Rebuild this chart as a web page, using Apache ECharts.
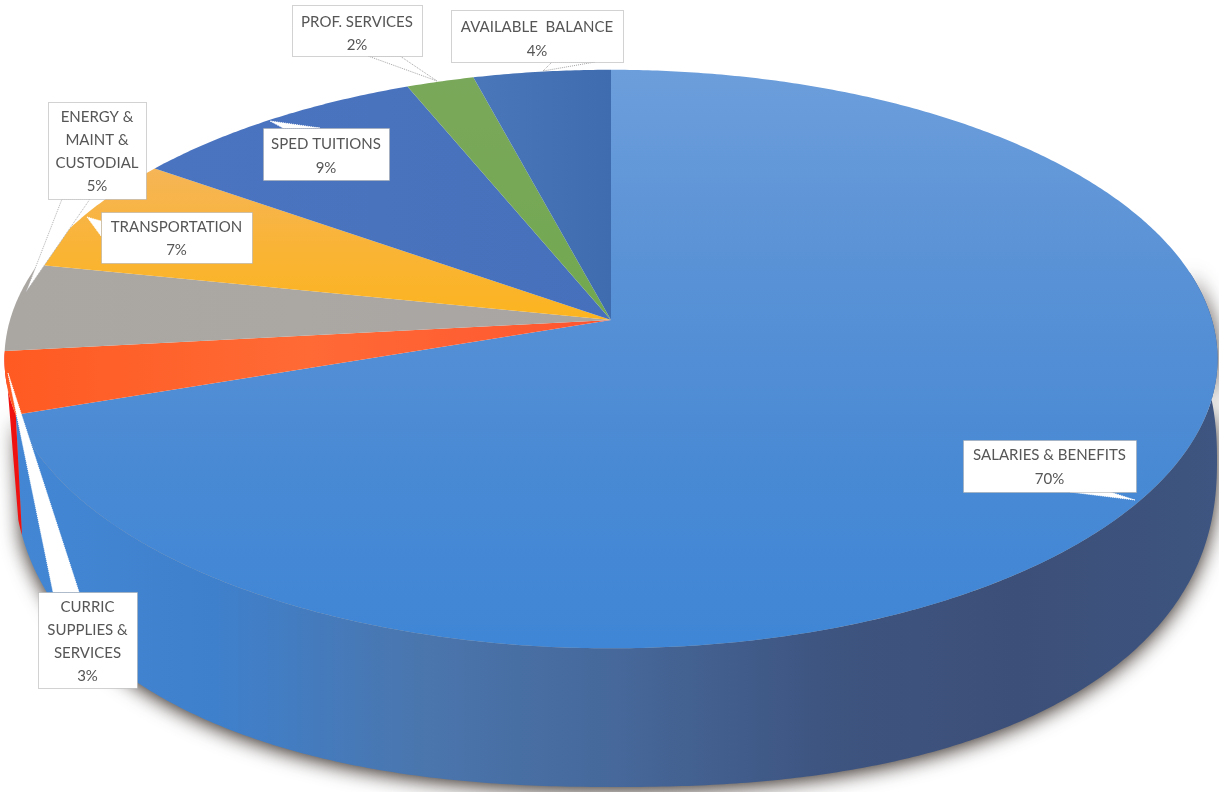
<!DOCTYPE html>
<html><head><meta charset="utf-8">
<style>html,body{margin:0;padding:0;background:#fff}#c{width:1219px;height:792px}</style>
<script src="https://cdn.jsdelivr.net/npm/echarts@6/dist/echarts.min.js"></script>
</head><body><div id="c"></div>
<script>
// Data, clockwise from twelve o'clock (labels show rounded percents)
const categories = ['SALARIES & BENEFITS','CURRIC\nSUPPLIES &\nSERVICES','ENERGY &\nMAINT &\nCUSTODIAL','TRANSPORTATION','SPED TUITIONS','PROF. SERVICES','AVAILABLE  BALANCE'];
const shares = [69.83,3.45,4.92,6.55,9.03,2.05,4.17];

// Styles
const lg = (x0,y0,x1,y1,stops)=>({type:'linear',x:x0,y:y0,x2:x1,y2:y1,colorStops:stops.map((c,i)=>({offset:i/(stops.length-1),color:c}))});
const topColors = [
  lg(0,0,0,1,['#6c9edb','#5a92d6','#4a8ad4','#3f86d6']),
  lg(0,0,1,0,['#ff5a22','#ff6a35','#ff5530']),
  lg(0,0,1,0,['#aaa6a2','#aba7a3','#a8a5a3']),
  lg(0,0,0,1,['#f6b557','#f9b437','#fcb41f']),
  lg(0,0,1,0,['#4a74c0','#4a73be','#4670bb']),
  lg(0,0,0,1,['#7aa85a','#72a850']),
  lg(0,0,1,0,['#4a77ba','#3f6cae'])
];
const wallBlue = lg(0,0,1,0,['#4387d4','#3f80cc','#4a76ae','#46689a','#3e5581','#3c4f78','#3d5580']);
const wallRed = '#ef1010';
const textFont = '15px Lato, "Open Sans", sans-serif';

// Pie geometry: top disc in perspective, lower rim outline
const G = {cx:611,cy:320,Rx:601,Ry:284,k:0.135, xb:615,yb:460,ab:602,bb:327,n:2.3};
const topPt = t=>{const u=Math.sin(t),v=-Math.cos(t),d=1-G.k*v;return [G.cx+G.Rx*u/d,G.cy+G.Ry*v/d];};
const botPt = t=>{const s=Math.sin(t),c=Math.cos(t),e=2/G.n;
  return [G.xb+G.ab*Math.sign(s)*Math.pow(Math.abs(s),e),G.yb-G.bb*Math.sign(c)*Math.pow(Math.abs(c),e)];};
const rad = d=>d*Math.PI/180;
const arc = (f,a,b)=>{const n=Math.max(2,Math.ceil(Math.abs(b-a)/0.5)),r=[];for(let i=0;i<=n;i++)r.push(f(rad(a+(b-a)*i/n)));return r;};
const total = shares.reduce((a,b)=>a+b,0);
const startAngle = i=>shares.slice(0,i).reduce((a,b)=>a+b,0)/total*360;

// Label boxes and callouts
const labelLayout = [
  {box:[963,440,173,52],call:[[1135,500],[1070,492],[1110,492]],stroke:'#fff',dy:1},
  {box:[38,592,99,96],call:[[8,373],[53,592],[79,592]],stroke:'#fff',dy:2},
  {box:[48,102,98,97],call:[[26,292],[62,199],[90,199]],stroke:'#b0b0b0',dy:1},
  {box:[101,212,151,51],call:[[87,217],[101,221],[101,236]],stroke:'#fff',dy:1},
  {box:[263,128,126,52],call:[[270,121],[283,128],[320,128]],stroke:'#fff',dy:2},
  {box:[292,5,130,51],call:[[437,81],[368,56],[400,56]],stroke:'#a5a5a5',dy:3},
  {box:[451,10,172,52],call:[[543,71],[552,62],[595,62]],stroke:'#a5a5a5',dy:3}
];
const graphicEls = [];
labelLayout.forEach((l,i)=>{
  const [x,y,w,h]=l.box;
  graphicEls.push({type:'polygon',z:10,shape:{points:l.call},style:{fill:'#fff',stroke:l.stroke,lineWidth:1,lineDash:[1,1]}});
  graphicEls.push({type:'rect',z:11,shape:{x:x+.5,y:y+.5,width:w,height:h},style:{fill:'#fff',stroke:'#a5a5a5',lineWidth:1,lineDash:[1,1]}});
  graphicEls.push({type:'text',z:12,style:{text:categories[i]+'\n'+Math.round(shares[i])+'%',x:x+w/2,y:y+h/2+l.dy,align:'center',verticalAlign:'middle',font:textFont,lineHeight:h>60?23:23.5,fill:'#565656'}});
});

const wallItem = (params,api)=>{
  const i=params.dataIndex;
  const poly=(pts,fill,extra)=>({type:'polygon',shape:{points:pts},style:Object.assign({fill},extra||{})});
  if(i===0){
    const end=startAngle(1);
    const pts=arc(topPt,80,end).concat(arc(botPt,end+8,80));
    return poly(pts,wallBlue,{shadowColor:'rgba(35,25,20,.95)',shadowBlur:20,shadowOffsetX:0,shadowOffsetY:3});
  }
  if(i===1){
    const a=startAngle(1),b=startAngle(2);
    return poly(arc(topPt,a,b).concat(arc(botPt,b-2,a+8)),wallRed);
  }
  return {type:'group',children:[]};
};
const topItem = (params,api)=>{
  const i=params.dataIndex;
  const a=startAngle(i), b=a+api.value(0)/total*360;
  return {type:'polygon',shape:{points:[[G.cx,G.cy]].concat(arc(topPt,a,b))},style:{fill:topColors[i]}};
};
const chart=echarts.init(document.getElementById('c'),null,{renderer:'canvas'});
chart.setOption({
  animation:false,backgroundColor:'#fff',
  series:[
    {type:'custom',coordinateSystem:'none',silent:true,z:1,renderItem:wallItem,data:shares.map(v=>[v])},
    {type:'custom',coordinateSystem:'none',silent:true,z:2,renderItem:topItem,data:shares.map((v,i)=>({name:categories[i],value:[v]}))}
  ],
  graphic:{elements:graphicEls}
});
</script></body></html>
